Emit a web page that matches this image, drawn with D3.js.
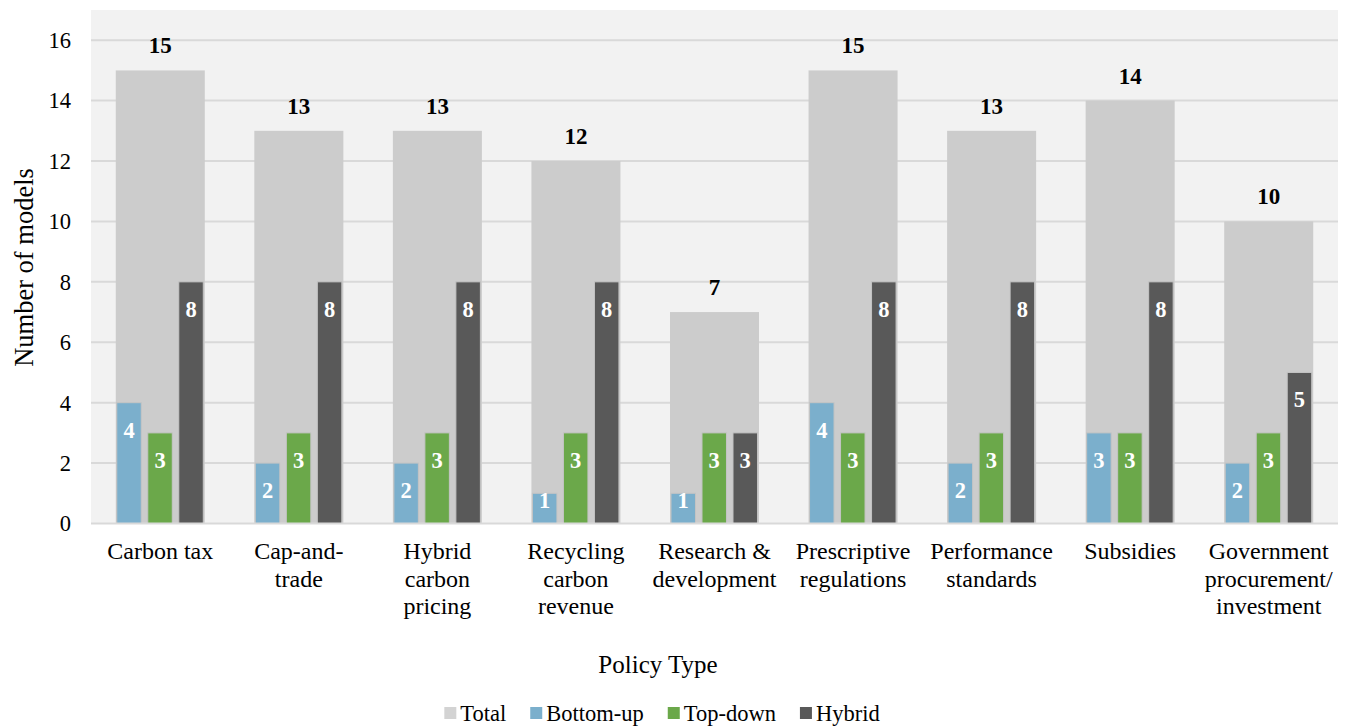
<!DOCTYPE html>
<html><head><meta charset="utf-8">
<script src="https://cdn.jsdelivr.net/npm/d3@7"></script>
<style>
html,body{margin:0;padding:0;background:#fff;}
svg{display:block;}
svg text{font-family:'Liberation Serif','Times New Roman',Tinos,serif;}
</style></head>
<body><svg id="c" width="1347" height="726"></svg>
<script>
const categories = [
  ["Carbon tax"],
  ["Cap-and-", "trade"],
  ["Hybrid", "carbon", "pricing"],
  ["Recycling", "carbon", "revenue"],
  ["Research &", "development"],
  ["Prescriptive", "regulations"],
  ["Performance", "standards"],
  ["Subsidies"],
  ["Government", "procurement/", "investment"]
];
const totalValues    = [15, 13, 13, 12, 7, 15, 13, 14, 10];
const bottomUpValues = [4, 2, 2, 1, 1, 4, 2, 3, 2];
const topDownValues  = [3, 3, 3, 3, 3, 3, 3, 3, 3];
const hybridValues   = [8, 8, 8, 8, 3, 8, 8, 8, 5];
const seriesNames = ["Total", "Bottom-up", "Top-down", "Hybrid"];
const yTicks = [0, 2, 4, 6, 8, 10, 12, 14, 16];

const FONT = "'Liberation Serif','Times New Roman',Tinos,serif";
const colors = {"Total":"#cccccc","Bottom-up":"#7bafcc","Top-down":"#6ba84a","Hybrid":"#595959"};
const legendColors = {"Total":"#d3d3d3","Bottom-up":"#7bafcc","Top-down":"#6ba84a","Hybrid":"#595959"};

const svg = d3.select("#c").attr("font-family", FONT);
const L = 91, R = 1338, T = 10, B = 523.5;
const idx = d3.range(categories.length);

const x = d3.scaleBand().domain(idx).range([L, R]).paddingInner(0.3575).paddingOuter(0.3575/2);
const subNames = ["Bottom-up", "Top-down", "Hybrid"];
const xs = d3.scaleBand().domain(subNames).range([1, 87.5]).paddingInner(0.21).paddingOuter(0);
const y = d3.scaleLinear().domain([0, 17]).range([B, T]);

svg.append("rect").attr("x", L).attr("y", T).attr("width", R - L).attr("height", B - T).attr("fill", "#f2f2f2");

svg.append("g").selectAll("line").data(yTicks.filter(d => d > 0)).join("line")
  .attr("x1", L).attr("x2", R).attr("y1", d => y(d)).attr("y2", d => y(d))
  .attr("stroke", "#d9d9d9").attr("stroke-width", 2);

svg.append("g").selectAll("text").data(yTicks).join("text")
  .attr("font-family", FONT)
  .attr("x", 71).attr("y", d => y(d)).attr("dy", "0.35em")
  .attr("text-anchor", "end").attr("font-size", 22.5).attr("fill", "#000")
  .text(d => d);

svg.append("g").selectAll("rect").data(idx).join("rect")
  .attr("x", i => x(i)).attr("width", x.bandwidth())
  .attr("y", i => y(totalValues[i])).attr("height", i => B - y(totalValues[i]))
  .attr("fill", colors["Total"]);

const subData = [];
idx.forEach(i => {
  subData.push({i, s: "Bottom-up", v: bottomUpValues[i]});
  subData.push({i, s: "Top-down", v: topDownValues[i]});
  subData.push({i, s: "Hybrid", v: hybridValues[i]});
});

svg.append("g").selectAll("rect").data(subData).join("rect")
  .attr("x", d => x(d.i) + xs(d.s)).attr("width", xs.bandwidth())
  .attr("y", d => y(d.v)).attr("height", d => B - y(d.v))
  .attr("fill", d => colors[d.s])
  .attr("stroke", "#c4c4c4").attr("stroke-width", 1);

svg.append("line").attr("x1", L).attr("x2", R).attr("y1", B).attr("y2", B)
  .attr("stroke", "#d9d9d9").attr("stroke-width", 2);

svg.append("g").selectAll("text").data(idx).join("text")
  .attr("font-family", FONT)
  .attr("x", i => x(i) + x.bandwidth() / 2).attr("y", i => y(totalValues[i]) - 17)
  .attr("text-anchor", "middle").attr("font-size", 23).attr("font-weight", "bold").attr("fill", "#000")
  .text(i => totalValues[i]);

svg.append("g").selectAll("text").data(subData).join("text")
  .attr("font-family", FONT)
  .attr("x", d => x(d.i) + xs(d.s) + xs.bandwidth() / 2)
  .attr("y", d => Math.min(y(d.v) + 35, B - 16))
  .attr("text-anchor", "middle").attr("font-size", 22.5).attr("font-weight", "bold").attr("fill", "#fff")
  .text(d => d.v);

const xl = svg.append("g").selectAll("text").data(idx).join("text")
  .attr("font-family", FONT)
  .attr("x", i => x(i) + x.bandwidth() / 2).attr("y", 559)
  .attr("text-anchor", "middle").attr("font-size", 24).attr("fill", "#000");
xl.selectAll("tspan").data(i => categories[i].map((t, k) => ({t, k, cx: x(i) + x.bandwidth() / 2}))).join("tspan")
  .attr("x", d => d.cx).attr("dy", d => d.k === 0 ? 0 : 27.5).text(d => d.t);

svg.append("text").attr("font-family", FONT).attr("x", 658).attr("y", 673).attr("text-anchor", "middle")
  .attr("font-size", 25).attr("fill", "#000").text("Policy Type");
svg.append("text").attr("font-family", FONT).attr("transform", "translate(33,267.5) rotate(-90)").attr("text-anchor", "middle")
  .attr("font-size", 26.5).attr("fill", "#000").text("Number of models");

const lg = svg.append("g");
const items = seriesNames.map(n => {
  const g = lg.append("g");
  g.append("rect").attr("width", 12).attr("height", 12).attr("y", 707).attr("fill", legendColors[n]);
  const t = g.append("text").attr("font-family", FONT).attr("x", 16).attr("y", 721).attr("font-size", 22.5).attr("fill", "#000").text(n);
  return {g, w: 16 + t.node().getComputedTextLength()};
});
const gap = 24;
const totalW = d3.sum(items, d => d.w) + gap * (items.length - 1);
let cx = 662 - totalW / 2;
items.forEach(it => { it.g.attr("transform", `translate(${cx},0)`); cx += it.w + gap; });
</script></body></html>
